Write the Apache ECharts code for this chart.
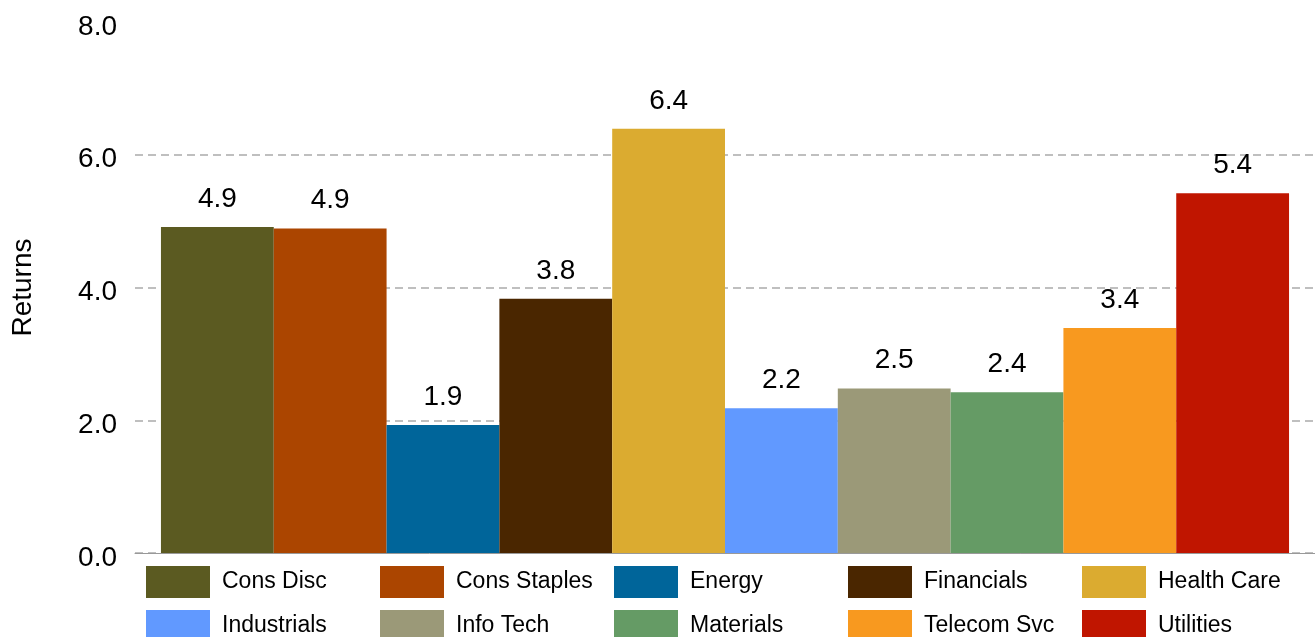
<!DOCTYPE html>
<html>
<head>
<meta charset="utf-8">
<script src="https://cdn.jsdelivr.net/npm/echarts@6/dist/echarts.min.js"></script>
<style>
  html, body { margin: 0; padding: 0; background: #fff; }
  #chart { width: 1315px; height: 637px; }
</style>
</head>
<body>
<div id="chart"></div>
<script>
// sectors and their returns
const sectors = ["Cons Disc", "Cons Staples", "Energy", "Financials", "Health Care",
  "Industrials", "Info Tech", "Materials", "Telecom Svc", "Utilities"];
const returns = [4.91, 4.89, 1.93, 3.83, 6.39, 2.18, 2.48, 2.42, 3.39, 5.42];
const colors = ["#5b5a21", "#ab4500", "#00659a", "#4a2600", "#dbab30",
  "#6199ff", "#9b9978", "#659b65", "#f8991f", "#c01500"];

const chart = echarts.init(document.getElementById("chart"));

const series = sectors.map((name, i) => ({
  name: name,
  type: "bar",
  barGap: 0,
  barCategoryGap: "4.4%",
  itemStyle: { color: colors[i] },
  label: {
    show: true,
    position: "top",
    distance: 14,
    fontSize: 28,
    color: "#000",
    fontFamily: "Liberation Sans",
    formatter: (p) => p.value.toFixed(1),
  },
  data: [returns[i]],
}));

chart.setOption({
  animation: false,
  backgroundColor: "#fff",
  color: colors,
  grid: { left: 135, right: 0, top: 22, bottom: 84, containLabel: false },
  legend: {
    data: sectors,
    left: 146,
    top: 565,
    width: 1180,
    padding: 0,
    itemGap: 10,
    itemWidth: 64,
    itemHeight: 32,
    icon: "rect",
    textStyle: {
      fontSize: 23,
      color: "#000",
      fontFamily: "Liberation Sans",
      width: 148,
      lineHeight: 32,
      padding: [2, 0, 0, 7],
    },
  },
  xAxis: {
    type: "category",
    data: [""],
    axisLine: { lineStyle: { color: "#999", width: 1 } },
    axisTick: { show: false },
    axisLabel: { show: false },
  },
  yAxis: {
    type: "value",
    min: 0,
    max: 8,
    interval: 2,
    name: "Returns",
    nameLocation: "middle",
    nameRotate: 90,
    nameGap: 98,
    nameTextStyle: { fontSize: 28, color: "#000", fontFamily: "Liberation Sans" },
    axisLine: { show: false },
    axisTick: { show: false },
    axisLabel: {
      fontSize: 28,
      color: "#000",
      margin: 18,
      fontFamily: "Liberation Sans",
      verticalAlign: "top",
      lineHeight: 10,
      formatter: (v) => v.toFixed(1),
    },
    splitLine: {
      show: true,
      showMaxLine: false,
      lineStyle: { color: "#aaa", type: [8, 5], width: 1.5 },
    },
  },
  series: series,
});
</script>
</body>
</html>
